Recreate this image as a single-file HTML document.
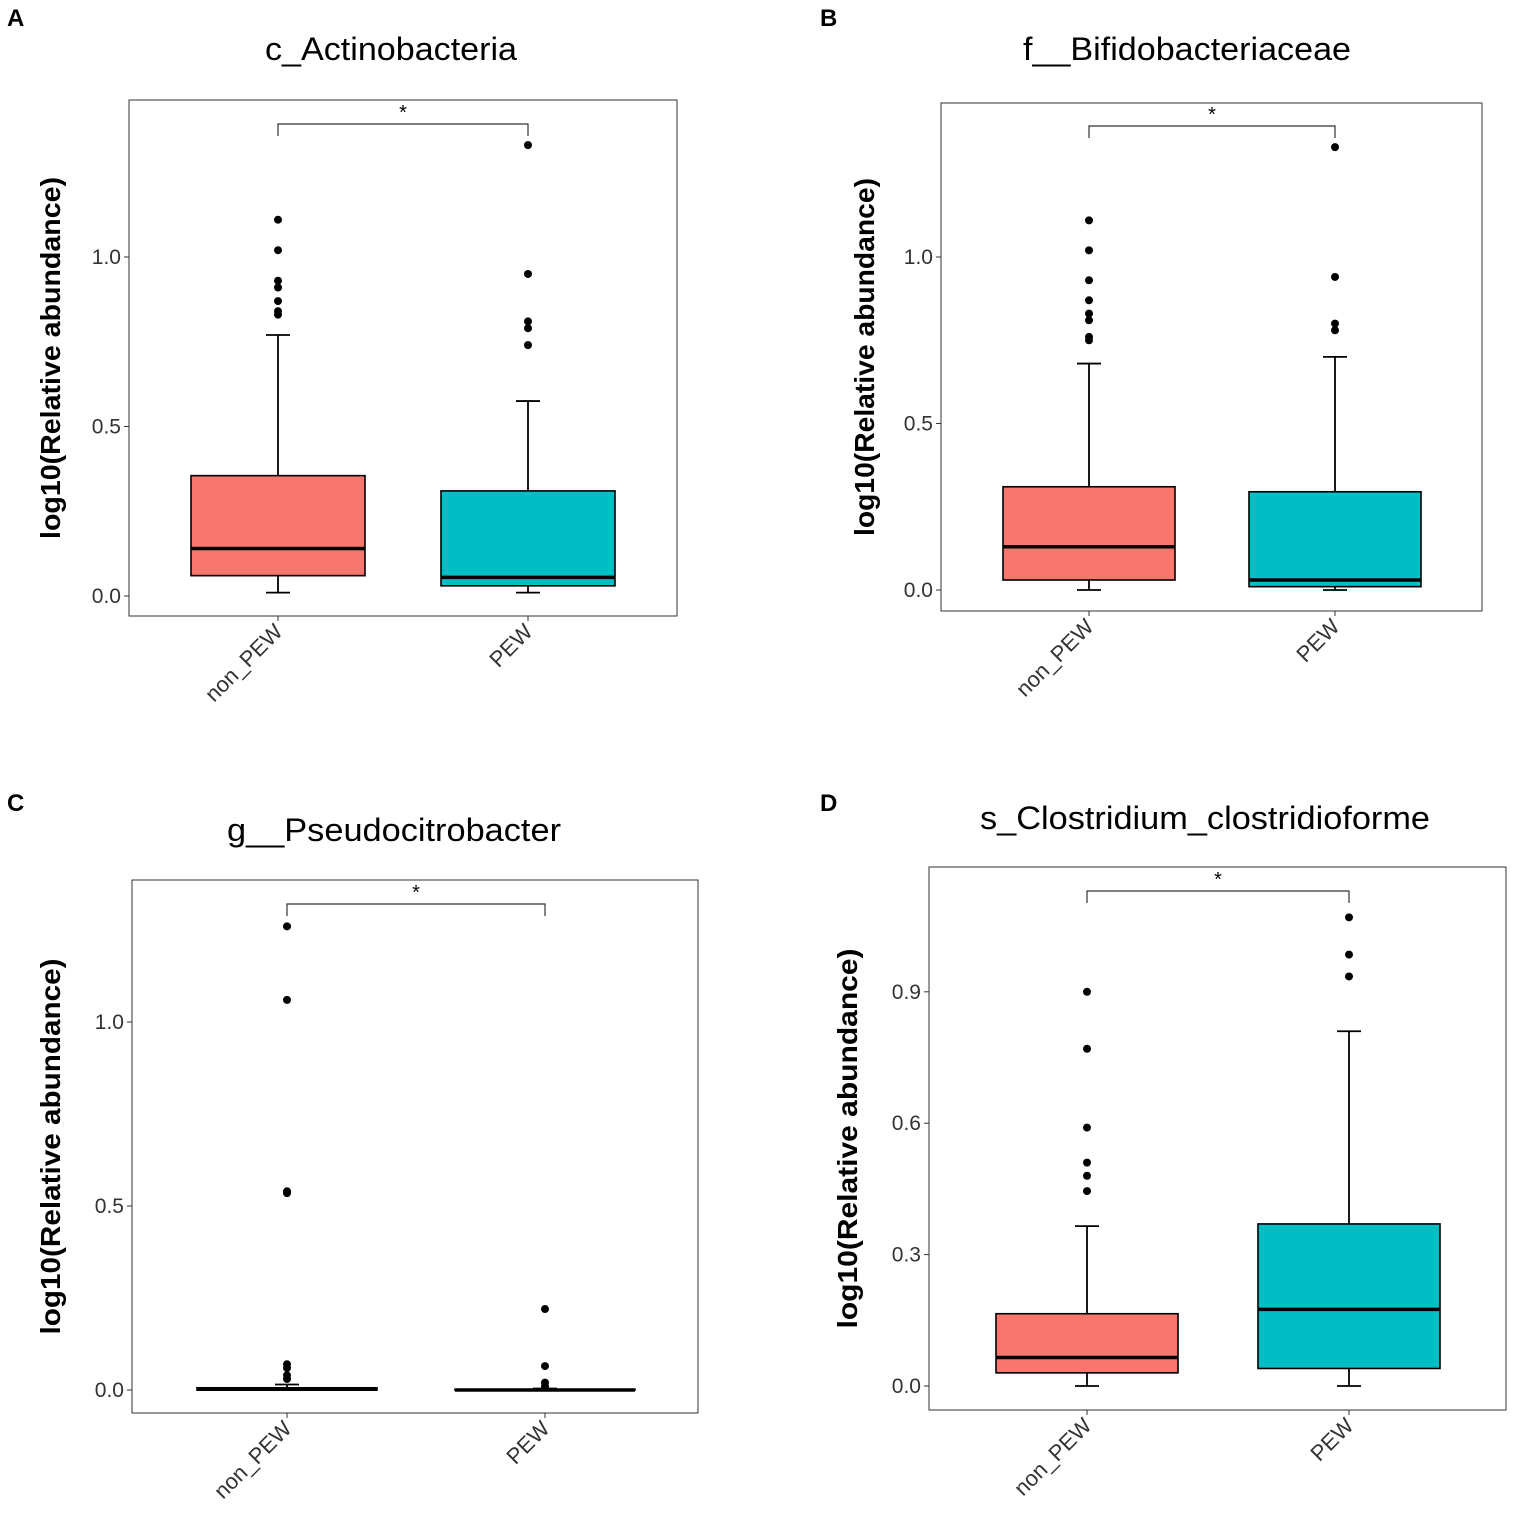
<!DOCTYPE html>
<html><head><meta charset="utf-8">
<style>
html,body{margin:0;padding:0;background:#fff;}
svg{display:block;font-family:"Liberation Sans",Arial,sans-serif;}
</style></head>
<body>
<svg id="chart" width="1535" height="1520" viewBox="0 0 1535 1520" xmlns="http://www.w3.org/2000/svg"></svg>
<script>
// ---- data ----
const categories = ["non_PEW", "PEW"];
const titles = ["c_Actinobacteria", "f__Bifidobacteriaceae", "g__Pseudocitrobacter", "s_Clostridium_clostridioforme"];
const panelLetters = ["A", "B", "C", "D"];
const ticksA = [0.0, 0.5, 1.0];
const ticksB = [0.0, 0.5, 1.0];
const ticksC = [0.0, 0.5, 1.0];
const ticksD = [0.0, 0.3, 0.6, 0.9];
const tickLabelsA = ["0.0", "0.5", "1.0"];
const tickLabelsB = ["0.0", "0.5", "1.0"];
const tickLabelsC = ["0.0", "0.5", "1.0"];
const tickLabelsD = ["0.0", "0.3", "0.6", "0.9"];
// box stats: [lowerWhisker, q1, median, q3, upperWhisker] per category
const statsA = [[0.01, 0.06, 0.14, 0.355, 0.77], [0.01, 0.03, 0.055, 0.31, 0.575]];
const statsB = [[0.0, 0.03, 0.13, 0.31, 0.68], [0.0, 0.01, 0.03, 0.295, 0.70]];
const statsC = [[0.0, 0.0, 0.002, 0.006, 0.015], [0.0, 0.0, 0.0, 0.002, 0.004]];
const statsD = [[0.0, 0.03, 0.065, 0.165, 0.365], [0.0, 0.04, 0.175, 0.37, 0.81]];
const outliersA = [[1.11, 1.02, 0.93, 0.91, 0.87, 0.84, 0.83], [1.33, 0.95, 0.81, 0.79, 0.74]];
const outliersB = [[1.11, 1.02, 0.93, 0.87, 0.83, 0.81, 0.76, 0.75], [1.33, 0.94, 0.80, 0.78]];
const outliersC = [[1.26, 1.06, 0.54, 0.535, 0.07, 0.06, 0.04, 0.03], [0.22, 0.065, 0.02, 0.01]];
const outliersD = [[0.90, 0.77, 0.59, 0.51, 0.48, 0.445], [1.07, 0.985, 0.935]];
const significance = ["*", "*", "*", "*"];

// ---- layout ----
const NS = "http://www.w3.org/2000/svg";
const svg = document.getElementById("chart");
const fills = ["#F8766D", "#00BFC4"];
const panels = [
  {frame:[129,100,677,616], y0:596, ppu:339, cx:[278,528], hw:87, ticks:ticksA, labels:tickLabelsA, stats:statsA, out:outliersA, bracket:124, titleX:391, titleY:60, titleW:252, letter:[7,26], ytX:60, ytW:362},
  {frame:[941,103,1482,611], y0:590, ppu:333, cx:[1089,1335], hw:86, ticks:ticksB, labels:tickLabelsB, stats:statsB, out:outliersB, bracket:126, titleX:1187, titleY:60, titleW:328, letter:[820,26], ytX:874, ytW:358},
  {frame:[132,880,698,1413], y0:1390, ppu:368, cx:[287,545], hw:90, ticks:ticksC, labels:tickLabelsC, stats:statsC, out:outliersC, bracket:904, titleX:394, titleY:841, titleW:334, letter:[7,811], ytX:60, ytW:376},
  {frame:[929,867,1506,1410], y0:1386, ppu:438, cx:[1087,1349], hw:91, ticks:ticksD, labels:tickLabelsD, stats:statsD, out:outliersD, bracket:891, titleX:1205, titleY:829, titleW:450, letter:[820,811], ytX:857, ytW:380}
];
function el(tag, attrs, parent){
  const e = document.createElementNS(NS, tag);
  for (const k in attrs) e.setAttribute(k, attrs[k]);
  (parent||svg).appendChild(e);
  return e;
}
panels.forEach((p, i) => {
  const g = el("g", {});
  
  
  const Y = v => p.y0 - v * p.ppu;
  const [fx1, fy1, fx2, fy2] = p.frame;
  const fr = el("rect", {x:fx1, y:fy1, width:fx2-fx1, height:fy2-fy1, fill:"none", stroke:"#333", "stroke-width":1}, g);
  
  
  const lt = el("text", {x:p.letter[0], y:p.letter[1], "font-size":24, "font-weight":"bold"}, g);
  lt.textContent = panelLetters[i];
  
  
  const tt = el("text", {x:p.titleX, y:p.titleY, "font-size":32, "text-anchor":"middle", textLength:p.titleW, lengthAdjust:"spacingAndGlyphs"}, g);
  tt.textContent = titles[i];
  
  
  const yt = el("text", {x:p.ytX, y:(fy1+fy2)/2, "font-size":28, "font-weight":"bold", "text-anchor":"middle", textLength:p.ytW, lengthAdjust:"spacingAndGlyphs", transform:`rotate(-90 ${p.ytX} ${(fy1+fy2)/2})`}, g);
  yt.textContent = "log10(Relative abundance)";
  
  
  p.ticks.forEach((t, j) => {
    const y = Y(t);
    el("line", {x1:fx1-5, x2:fx1, y1:y, y2:y, stroke:"#333", "stroke-width":1}, g);
    const tl = el("text", {x:fx1-8, y:y+7, "font-size":21, "text-anchor":"end", fill:"#333"}, g);
    tl.textContent = p.labels[j];
    
    
  });
  categories.forEach((c, k) => {
    const x = p.cx[k];
    el("line", {x1:x, x2:x, y1:fy2, y2:fy2+5, stroke:"#333", "stroke-width":1}, g);
    const cl = el("text", {x:x+6, y:fy2+17, "font-size":22, "text-anchor":"end", fill:"#333", transform:`rotate(-45 ${x+6} ${fy2+17})`}, g);
    cl.textContent = c;
    
    
    const s = p.stats[k];
    const hw = p.hw;
    el("line", {x1:x, x2:x, y1:Y(s[0]), y2:Y(s[1]), stroke:"#000", "stroke-width":1.8}, g);
    el("line", {x1:x, x2:x, y1:Y(s[3]), y2:Y(s[4]), stroke:"#000", "stroke-width":1.8}, g);
    el("line", {x1:x-12, x2:x+12, y1:Y(s[0]), y2:Y(s[0]), stroke:"#000", "stroke-width":1.8}, g);
    el("line", {x1:x-12, x2:x+12, y1:Y(s[4]), y2:Y(s[4]), stroke:"#000", "stroke-width":1.8}, g);
    const b = el("rect", {x:x-hw, y:Y(s[3]), width:2*hw, height:Math.max(Y(s[1])-Y(s[3]),0.5), fill:fills[k], stroke:"#000", "stroke-width":1.6}, g);
    
    
    el("line", {x1:x-hw, x2:x+hw, y1:Y(s[2]), y2:Y(s[2]), stroke:"#000", "stroke-width":3.5}, g);
    p.out[k].forEach(v => {
      const o = el("circle", {cx:x, cy:Y(v), r:4, fill:"#000"}, g);
      
      
    });
  });
  const bl = el("path", {d:`M${p.cx[0]} ${p.bracket+12}V${p.bracket}H${p.cx[1]}V${p.bracket+12}`, fill:"none", stroke:"#333", "stroke-width":1.2}, g);
  
  
  const st = el("text", {x:(p.cx[0]+p.cx[1])/2, y:p.bracket-5, "font-size":20, "text-anchor":"middle"}, g);
  st.textContent = significance[i];
  
  
});
</script>
</body></html>
